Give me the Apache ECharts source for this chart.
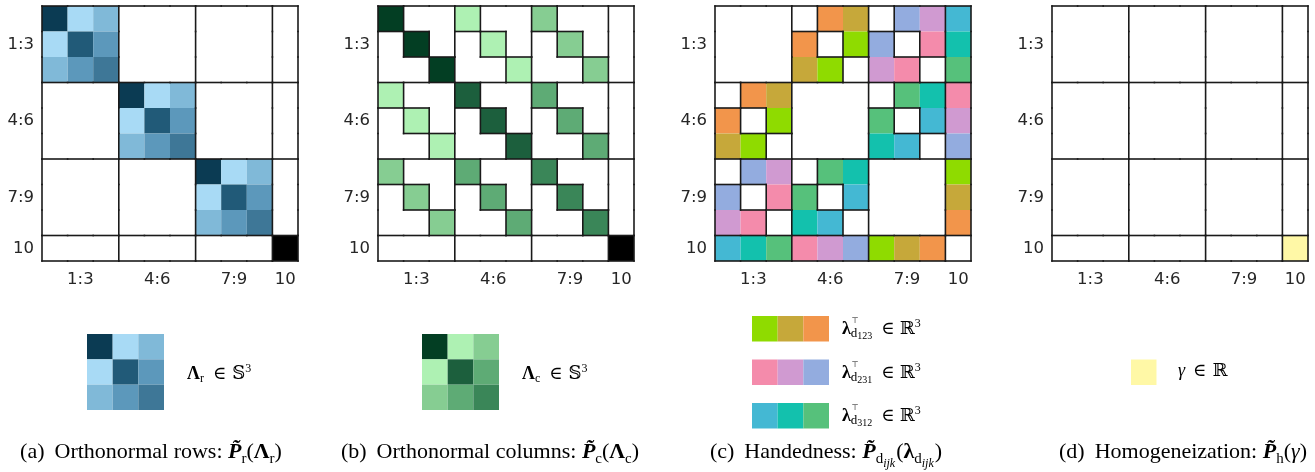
<!DOCTYPE html>
<html><head><meta charset="utf-8">
<script src="https://cdn.jsdelivr.net/npm/echarts@6/dist/echarts.min.js"></script>
<style>html,body{margin:0;padding:0;background:#fff}#c{width:1315px;height:472px}</style>
</head><body><div id="c"></div>
<script>
// ---------------- data ----------------
const categories = ['1','2','3','4','5','6','7','8','9','10'];
const tickLabels = {1:'1:3', 4:'4:6', 7:'7:9', 9:'10'};
const blockEdges = [3, 6, 9];

const palette = {
  b11:'#0b3b53', b22:'#215a78', b33:'#3e7797', b12:'#a8daf5', b13:'#80b9d8', b23:'#5c98bb',
  g11:'#033e23', g22:'#1c5f3d', g33:'#3a8658', g12:'#aef1b3', g13:'#86cd92', g23:'#5eab75',
  lime:'#8fdb00', olive:'#c6a83a', orange:'#f2954b',
  pink:'#f48bab', purple:'#d09ad1', blue:'#93acdf',
  cyan:'#44b8d3', teal:'#13c1ad', green:'#56c17b',
  black:'#000000', yellow:'#fff8a6'
};

// (a) orthonormal rows
const matrixRows = [
  'b11 b12 b13 . . . . . . .',
  'b12 b22 b23 . . . . . . .',
  'b13 b23 b33 . . . . . . .',
  '. . . b11 b12 b13 . . . .',
  '. . . b12 b22 b23 . . . .',
  '. . . b13 b23 b33 . . . .',
  '. . . . . . b11 b12 b13 .',
  '. . . . . . b12 b22 b23 .',
  '. . . . . . b13 b23 b33 .',
  '. . . . . . . . . black'
];
// (b) orthonormal columns
const matrixCols = [
  'g11 . . g12 . . g13 . . .',
  '. g11 . . g12 . . g13 . .',
  '. . g11 . . g12 . . g13 .',
  'g12 . . g22 . . g23 . . .',
  '. g12 . . g22 . . g23 . .',
  '. . g12 . . g22 . . g23 .',
  'g13 . . g23 . . g33 . . .',
  '. g13 . . g23 . . g33 . .',
  '. . g13 . . g23 . . g33 .',
  '. . . . . . . . . black'
];
// (c) handedness
const matrixHand = [
  '. . . . orange olive . blue purple cyan',
  '. . . orange . lime blue . pink teal',
  '. . . olive lime . purple pink . green',
  '. orange olive . . . . green teal pink',
  'orange . lime . . . green . cyan purple',
  'olive lime . . . . teal cyan . blue',
  '. blue purple . green teal . . . lime',
  'blue . pink green . cyan . . . olive',
  'purple pink . teal cyan . . . . orange',
  'cyan teal green pink purple blue lime olive orange .'
];
// (d) homogeneization
const matrixHomog = [
  '. . . . . . . . . .',
  '. . . . . . . . . .',
  '. . . . . . . . . .',
  '. . . . . . . . . .',
  '. . . . . . . . . .',
  '. . . . . . . . . .',
  '. . . . . . . . . .',
  '. . . . . . . . . .',
  '. . . . . . . . . .',
  '. . . . . . . . . yellow'
];
// legend swatches
const legendRows = ['b11 b12 b13', 'b12 b22 b23', 'b13 b23 b33'];
const legendCols = ['g11 g12 g13', 'g12 g22 g23', 'g13 g23 g33'];
const legendD123 = ['lime olive orange'];
const legendD231 = ['pink purple blue'];
const legendD312 = ['cyan teal green'];
const legendGamma = ['yellow'];

// ---------------- chart ----------------
const parse = m => m.map(r => r.split(' '));
const SERIF = "'Liberation Serif','DejaVu Serif',serif";
const SANS = "'DejaVu Sans',sans-serif";
const EDGE = '#1a1a1a';

const grids = [], xAxes = [], yAxes = [], series = [];

function addMatrix(mat, grid, bordered, showLabels) {
  const M = parse(mat);
  const n = M.length, m = M[0].length;
  const idx = grids.length;
  grids.push(grid);
  const labelStyle = {show: showLabels, interval: 0, fontSize: 16.5, color: '#262626', fontFamily: SANS,
    formatter: (v, i) => tickLabels[i] || ''};
  xAxes.push({type:'category', gridIndex: idx, data: categories.slice(0, m), show: true,
    axisLine:{show:false}, axisTick:{show:false}, splitLine:{show:false},
    axisLabel: Object.assign({margin: 10}, labelStyle)});
  yAxes.push({type:'category', gridIndex: idx, data: categories.slice(0, n), inverse: true, show: true,
    axisLine:{show:false}, axisTick:{show:false}, splitLine:{show:false},
    axisLabel: Object.assign({margin: 8}, labelStyle)});
  const data = [];
  for (let r = 0; r < n; r++) for (let c = 0; c < m; c++) data.push([c, r]);
  series.push({
    type: 'custom', xAxisIndex: idx, yAxisIndex: idx, data, silent: true,
    renderItem(params, api) {
      const c = api.value(0), r = api.value(1);
      const code = M[r][c];
      const p = api.coord([c, r]);
      const s = api.size([1, 1]);
      const x0 = p[0] - s[0] / 2, y0 = p[1] - s[1] / 2, w = s[0], h = s[1];
      const children = [];
      if (code !== '.') children.push({type:'rect', shape:{x:x0, y:y0, width:w, height:h},
        style:{fill: palette[code]}, z2: 0});
      if (bordered) {
        const empty = code === '.';
        const line = (x1, y1, x2, y2) => children.push({type:'line', shape:{x1, y1, x2, y2},
          style:{stroke: EDGE, lineWidth: 1.6, lineCap: 'square'}, z2: 10});
        if (c === 0) line(x0, y0, x0, y0 + h);
        if (r === 0) line(x0, y0, x0 + w, y0);
        if (c === m - 1 || blockEdges.includes(c + 1) || (M[r][c + 1] === '.') !== empty) line(x0 + w, y0, x0 + w, y0 + h);
        if (r === n - 1 || blockEdges.includes(r + 1) || (M[r + 1][c] === '.') !== empty) line(x0, y0 + h, x0 + w, y0 + h);
      }
      return {type:'group', children};
    }
  });
}

addMatrix(matrixRows,  {left:42,   top:6, width:256, height:255}, true, true);
addMatrix(matrixCols,  {left:378,  top:6, width:256, height:255}, true, true);
addMatrix(matrixHand,  {left:715,  top:6, width:256, height:255}, true, true);
addMatrix(matrixHomog, {left:1052, top:6, width:256, height:255}, true, true);
addMatrix(legendRows,  {left:87,  top:334, width:77, height:76}, false, false);
addMatrix(legendCols,  {left:422, top:334, width:77, height:76}, false, false);
addMatrix(legendD123,  {left:752, top:316, width:77, height:25.5}, false, false);
addMatrix(legendD231,  {left:752, top:359.5, width:77, height:25.5}, false, false);
addMatrix(legendD312,  {left:752, top:403, width:77, height:25.5}, false, false);
addMatrix(legendGamma, {left:1131, top:359.5, width:25.5, height:25.5}, false, false);

// math-like text builder
const mctx = document.createElement('canvas').getContext('2d');
function mw(t, font) { mctx.font = font; return mctx.measureText(t).width; }
function mathText(parts, x, baseline, align) {
  let cx = 0; const items = [];
  for (const p of parts) {
    const font = (p.i ? 'italic ' : '') + (p.b ? 'bold ' : '') + p.s + 'px ' + (p.f || SERIF);
    cx += (p.gap || 0);
    items.push({t: p.t, font, x: cx + (p.dx || 0), y: (p.dy || 0), s: p.s});
    if (!p.over) cx += mw(p.t, font);
  }
  const start = align === 'center' ? x - cx / 2 : x;
  return items.map(it => ({type:'text', silent:true, x: start + it.x, y: baseline + it.y - 0.34 * it.s,
    style:{text: it.t, font: it.font, fill:'#000', align:'left', verticalAlign:'middle'}}));
}

const elems = [];
// legend labels
elems.push(...mathText([{t:'Λ', s:18, b:true}, {t:'r', s:12, dy:3}, {t:'∈', s:18, gap:9}, {t:'𝕊', s:18, gap:6}, {t:'3', s:12, dy:-7}], 187, 380));
elems.push(...mathText([{t:'Λ', s:18, b:true}, {t:'c', s:12, dy:3}, {t:'∈', s:18, gap:9}, {t:'𝕊', s:18, gap:6}, {t:'3', s:12, dy:-7}], 522, 380));
const lamParts = sub => [{t:'λ', s:18, b:true}, {t:'⊤', s:8, dy:-11, dx:1, over:true, f:SANS}, {t:'d', s:13, dy:3}, {t:sub, s:10, dy:5},
  {t:'∈', s:18, gap:9}, {t:'ℝ', s:18, gap:5}, {t:'3', s:12, dy:-7}];
elems.push(...mathText(lamParts('123'), 842, 335));
elems.push(...mathText(lamParts('231'), 842, 379));
elems.push(...mathText(lamParts('312'), 842, 422));
elems.push(...mathText([{t:'γ', s:18, i:true}, {t:'∈', s:18, gap:8}, {t:'ℝ', s:18, gap:6}], 1178, 377));

// captions
const CS = 22, SS = 15;
const Ptil = {t:'P\u0303', s:CS, b:true, i:true};
elems.push(...mathText([{t:'(a)', s:CS}, {t:'Orthonormal rows: ', s:CS, gap:10}, Ptil, {t:'r', s:SS, dy:4},
  {t:'(', s:CS}, {t:'Λ', s:CS, b:true}, {t:'r', s:SS, dy:4}, {t:')', s:CS}], 151, 460, 'center'));
elems.push(...mathText([{t:'(b)', s:CS}, {t:'Orthonormal columns: ', s:CS, gap:10}, Ptil, {t:'c', s:SS, dy:4},
  {t:'(', s:CS}, {t:'Λ', s:CS, b:true}, {t:'c', s:SS, dy:4}, {t:')', s:CS}], 490, 460, 'center'));
elems.push(...mathText([{t:'(c)', s:CS}, {t:'Handedness: ', s:CS, gap:10}, Ptil, {t:'d', s:SS, dy:4}, {t:'ijk', s:12, i:true, dy:8},
  {t:'(', s:CS, gap:1}, {t:'λ', s:CS, b:true}, {t:'d', s:SS, dy:4}, {t:'ijk', s:12, i:true, dy:8}, {t:')', s:CS, gap:1}], 826, 460, 'center'));
elems.push(...mathText([{t:'(d)', s:CS}, {t:'Homogeneization: ', s:CS, gap:10}, Ptil, {t:'h', s:SS, dy:4},
  {t:'(', s:CS}, {t:'γ', s:CS, i:true}, {t:')', s:CS}], 1183, 460, 'center'));

const chart = echarts.init(document.getElementById('c'), null, {renderer:'canvas'});
chart.setOption({
  animation: false,
  backgroundColor: '#ffffff',
  grid: grids,
  xAxis: xAxes,
  yAxis: yAxes,
  series: series,
  graphic: {elements: elems}
});
</script></body></html>
